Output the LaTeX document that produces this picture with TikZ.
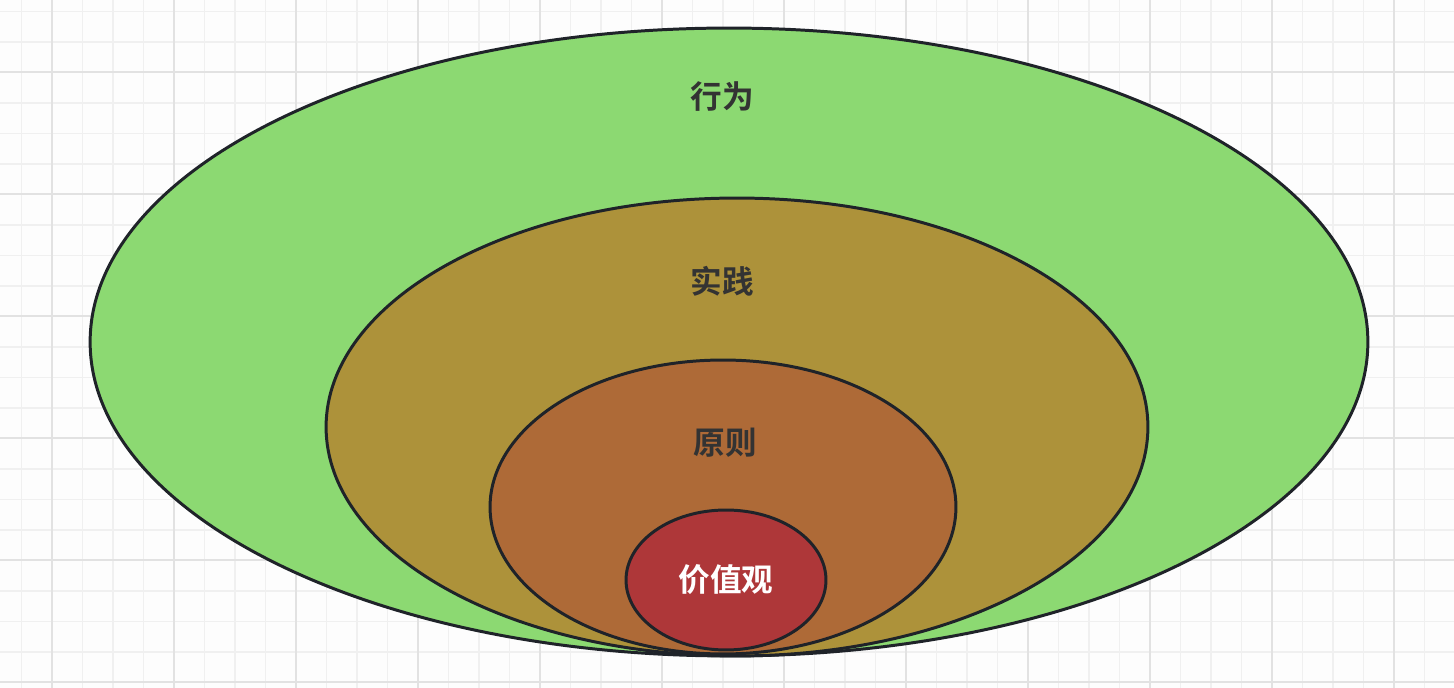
\documentclass[tikz,border=0pt]{standalone}
\usepackage{fontspec}
\usepackage{xcolor}
\usepackage{tikz}
\usetikzlibrary{shapes.geometric, positioning, backgrounds}
\newfontfamily\cjkbold{Noto Sans CJK SC Bold}
\definecolor{paper}{HTML}{FDFDFD}
\definecolor{gridminor}{HTML}{F0F0F0}
\definecolor{gridmajor}{HTML}{E2E2E2}
\definecolor{rim}{HTML}{1F2329}
\definecolor{actgreen}{HTML}{8CD972}
\definecolor{practolive}{HTML}{AD923A}
\definecolor{princbrown}{HTML}{AE6A37}
\definecolor{valred}{HTML}{AE3739}
\definecolor{labelgray}{HTML}{333333}

\begin{document}
\begin{tikzpicture}[
  x=0.02cm, y=-0.02cm,
  ring/.style={ellipse, draw=rim, line width=1.7pt, inner sep=0pt},
  ringlabel/.style={font=\cjkbold\fontsize{18}{20}\selectfont, text=labelgray},
  minorline/.style={draw=gridminor, line width=0.8pt},
  majorline/.style={draw=gridmajor, line width=1pt}
]
  \useasboundingbox (0,0) rectangle (1454,688);
  \fill[paper] (0,0) rectangle (1454,688);

  % grid
  \foreach \i in {0,...,47} {
    \pgfmathsetmacro{\gx}{21.5+30.5*\i}
    \draw[minorline] (\gx,0) -- (\gx,688);
  }
  \foreach \i in {0,...,22} {
    \pgfmathsetmacro{\gy}{11.5+30.5*\i}
    \draw[minorline] (0,\gy) -- (1454,\gy);
  }
  \foreach \i in {0,...,11} {
    \pgfmathsetmacro{\gx}{52+122*\i}
    \draw[majorline] (\gx,0) -- (\gx,688);
  }
  \foreach \i in {0,...,5} {
    \pgfmathsetmacro{\gy}{72+122*\i}
    \draw[majorline] (0,\gy) -- (1454,\gy);
  }

  % rings, outside in
  \node[ring, fill=actgreen, minimum width=25.56cm, minimum height=12.56cm] (action) at (729,342) {};
  \node[ring, fill=practolive, minimum width=16.44cm, minimum height=9.16cm] (practice) at (737,427) {};
  \node[ring, fill=princbrown, minimum width=9.32cm, minimum height=5.88cm] (principle) at (723,507) {};
  \node[ring, fill=valred, minimum width=4cm, minimum height=2.8cm] (values) at (726,580) {};

  \node[ringlabel] (actiontext) at (722,97) {行为};
  \node[ringlabel] (practicetext) at (722,281) {实践};
  \node[ringlabel] (principletext) at (725,443) {原则};
  \node[ringlabel, text=white] (valuestext) at (values) {价值观};
\end{tikzpicture}
\end{document}
